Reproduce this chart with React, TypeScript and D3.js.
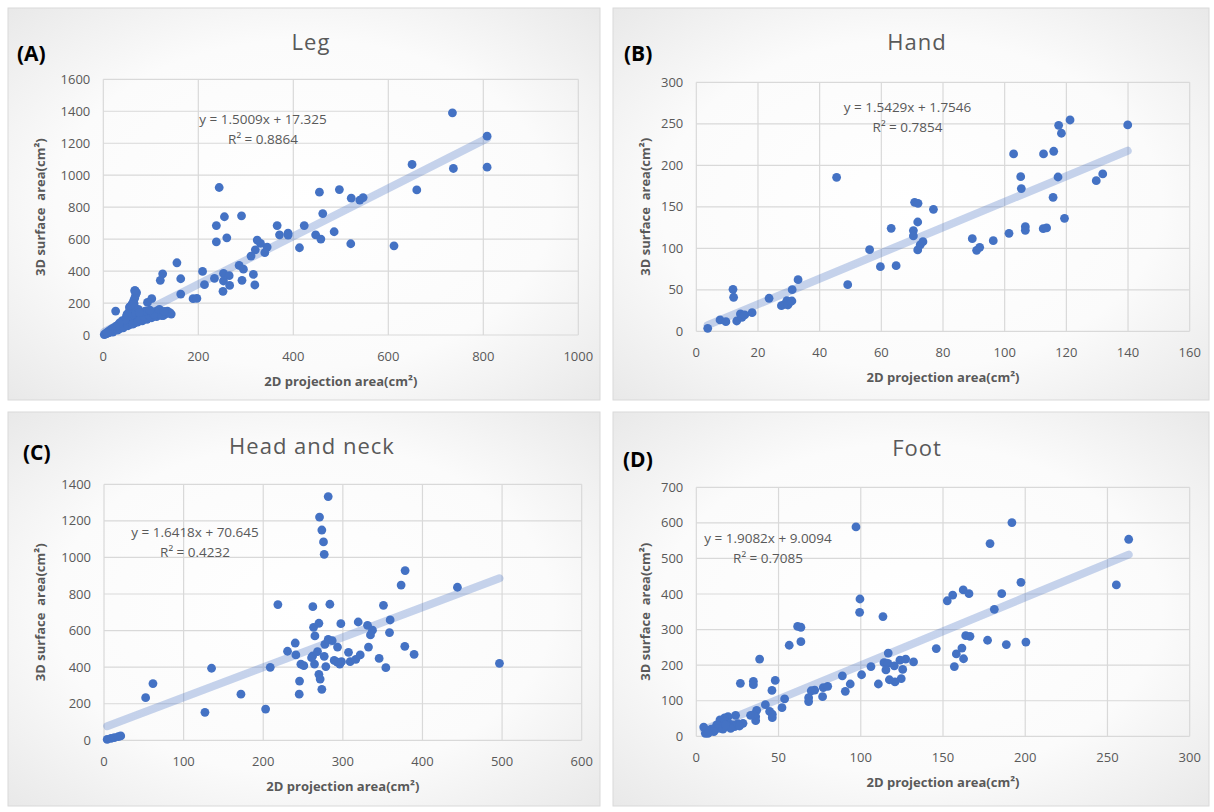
import React from 'react';
import * as d3 from 'd3';

type Pt = [number, number];

// values: [2D projection area, 3D surface area]
const legPoints: Pt[] = [
  [735, 1390], [808, 1244], [808, 1050], [737, 1042], [650, 1067], [660, 908],
  [244, 923], [455, 894], [497, 910], [522, 856], [540, 844], [547, 860],
  [462, 760], [255, 740], [291, 746], [238, 685], [366, 685], [423, 685],
  [371, 627], [389, 637], [389, 625], [447, 627], [458, 600], [486, 646],
  [521, 571], [612, 558], [238, 583], [260, 608], [324, 594], [331, 573],
  [345, 550], [340, 515], [320, 533], [311, 494], [413, 546], [286, 435],
  [295, 412], [316, 379], [319, 313], [292, 342], [253, 385], [265, 371],
  [253, 338], [266, 310], [252, 273], [234, 354], [209, 398], [213, 315],
  [189, 227], [197, 229], [155, 452], [163, 352], [163, 256], [125, 383],
  [120, 342], [102, 227], [93, 204], [67, 277], [26, 150], [143, 131],
  [131, 144], [126, 121],
  [2, 3], [4, 6], [6, 8], [8, 10], [10, 14], [12, 15], [14, 20], [16, 22],
  [18, 25], [20, 28], [22, 30], [24, 34], [26, 37], [28, 40], [30, 42],
  [32, 45], [34, 50], [36, 52], [38, 55], [40, 58], [42, 62], [44, 65],
  [46, 70], [48, 72], [50, 78], [52, 80], [55, 85], [58, 90], [60, 95],
  [62, 100], [65, 105], [68, 110], [70, 115], [72, 120], [75, 118], [78, 125],
  [80, 130], [84, 128], [88, 135], [92, 130], [96, 140], [100, 138], [104, 145],
  [108, 142], [112, 150], [116, 148], [120, 140], [125, 135], [130, 130],
  [22, 45], [28, 55], [35, 65], [40, 75], [45, 85], [50, 100], [52, 120],
  [54, 140], [56, 160], [58, 180], [60, 190], [62, 200], [64, 215], [66, 230],
  [68, 250], [70, 265], [66, 277], [55, 175], [60, 150], [48, 110], [40, 90],
  [30, 60], [35, 40], [45, 55], [55, 65], [65, 75], [75, 90], [85, 100],
  [95, 110], [105, 120], [115, 125], [25, 30], [15, 30], [10, 20], [38, 70],
  [58, 120], [63, 130], [70, 145], [80, 110], [90, 105], [100, 118], [110, 130],
  [20, 18], [30, 30], [42, 45], [52, 58], [62, 68], [72, 80], [82, 88],
  [92, 98], [102, 108], [112, 115], [122, 122], [60, 170], [65, 195], [57, 135],
  [68, 140], [74, 160], [78, 100], [86, 115], [96, 125], [106, 130], [118, 160],
  [50, 130], [46, 95], [34, 75], [25, 50], [18, 38], [12, 25], [8, 16],
  [135, 150], [140, 140], [128, 148], [88, 150], [98, 155], [76, 140],
];

const handPoints: Pt[] = [
  [3.7, 3.6], [7.7, 13.7], [9.6, 11.6], [11.9, 50.6], [12.1, 41], [13.1, 12.4],
  [14.3, 20.9], [14.8, 16.9], [15.7, 19.7], [18.1, 22.5], [23.6, 39.8],
  [27.6, 30.9], [28.6, 32.5], [29.4, 37], [29.7, 31.7], [30.5, 35.7],
  [31.0, 36.5], [31.1, 50.2], [33, 62.2], [45.5, 185.5], [49.1, 56.2],
  [56.2, 98.4], [59.7, 77.9], [63.2, 124.1], [64.8, 79.1], [70.4, 121.3],
  [70.4, 114.9], [70.8, 155.4], [71.9, 154.2], [71.8, 131.7], [71.8, 98],
  [72.6, 104], [73.5, 108], [76.9, 147], [89.5, 111.6], [90.9, 97.6],
  [91.9, 101.2], [96.3, 109.2], [101.4, 118.1], [102.9, 213.7], [105.2, 186.3],
  [105.4, 171.9], [106.7, 126.1], [106.7, 121.7], [112.6, 213.7], [112.5, 123.7],
  [113.6, 124.5], [115.9, 216.9], [115.7, 161.4], [117.3, 185.9], [117.5, 248.2],
  [118.4, 238.6], [119.4, 136.1], [121.2, 254.6], [129.7, 181.5], [131.8, 189.6],
  [139.9, 248.6],
];

const headPoints: Pt[] = [
  [4, 5], [8.8, 11], [13, 15], [18, 20], [21, 24], [52.3, 233], [61.5, 310],
  [126.8, 153], [135.1, 394], [172, 252], [203, 171], [208.8, 399], [218.4, 742],
  [230.5, 487], [240.2, 532], [241, 467], [245.6, 324], [245.2, 252], [247.3, 416],
  [251, 408], [262, 461], [262.3, 731], [263.2, 618], [264.4, 417], [264.9, 571],
  [260.7, 452], [268.2, 485], [269.9, 640], [269.9, 361], [271.5, 335],
  [273.6, 279], [270.7, 1221], [273.6, 1150], [275.7, 1085], [276.6, 1017],
  [281.6, 1333], [283.7, 744], [276.6, 459], [278.6, 403], [277.4, 525],
  [281.6, 552], [286.6, 545], [293.3, 510], [289.1, 437], [292.9, 427],
  [296.2, 417], [298.3, 430], [297.5, 638], [307.1, 481], [309.2, 430],
  [316.3, 443], [321.8, 467], [319.3, 647], [331, 629], [337.2, 602],
  [334.7, 576], [332.2, 510], [345.6, 448], [351, 738], [354, 397],
  [359.4, 658], [358.6, 589], [373.2, 849], [378.2, 928], [377.8, 514],
  [389.5, 470], [443.9, 837], [496.7, 421],
];

const footPoints: Pt[] = [
  [97.1, 588.6], [191.9, 600.7], [178.6, 541.7], [262.9, 553.9], [255.4, 425.5],
  [197.4, 433], [185.7, 401], [162.3, 411.4], [165.8, 401], [155.9, 397],
  [152.6, 381], [181.2, 357], [99.5, 386], [99.3, 348.6], [113.5, 336.5],
  [61.6, 309], [63.6, 306.5], [63.6, 266], [56.5, 256], [38.5, 217],
  [163.8, 283], [166.4, 281], [177.1, 270], [188.5, 258], [200.4, 265],
  [145.9, 246.5], [161.5, 248], [158.1, 231.5], [162.5, 218], [156.9, 196],
  [116.7, 234], [114.1, 207], [116.5, 205], [115.3, 186.5], [120.4, 198],
  [123.8, 214], [127.3, 217], [125.5, 188], [132.1, 209], [124.6, 162],
  [120.8, 153], [117.4, 159], [110.7, 147], [106.2, 196], [100.5, 173],
  [93.6, 147], [88.8, 170], [90.6, 126.5], [77.2, 137], [79.9, 140.6],
  [76.8, 111.5], [72, 130], [69.9, 128], [68.3, 108.7], [68.3, 97.5],
  [53.7, 105], [52.1, 80.6], [46, 129], [48, 157], [34.7, 154.6], [34.7, 145],
  [26.8, 149], [42, 89], [44.6, 70], [46.2, 62], [46.2, 52.5], [36.7, 73],
  [36.1, 55], [36.1, 44], [34.7, 60], [33, 59], [28.4, 36.5], [23.9, 59],
  [25.3, 35.6], [19.3, 55], [17.2, 51.5], [14.4, 46], [17.2, 41], [20.3, 34],
  [22.3, 32], [23.3, 27], [18.8, 29], [15.2, 27], [12.4, 32], [11.1, 22.5],
  [9.1, 20], [7.1, 16], [4.5, 26], [5.5, 8.4], [8.1, 13], [13.6, 22.5],
  [16.2, 20], [20.9, 22.5], [26.3, 29], [17.8, 32], [10.7, 13], [7.1, 8.4],
];

// trendline coefficients shown on the chart: slope, intercept, R²
const fitSlopes = [1.5009, 1.5429, 1.6418, 1.9082];
const fitIntercepts = [17.325, 1.7546, 70.645, 9.0094];
const fitR2 = ['0.8864', '0.7854', '0.4232', '0.7085'];

const titles = ['Leg', 'Hand', 'Head and neck', 'Foot'];
const letters = ['(A)', '(B)', '(C)', '(D)'];

const legXTicks = [0, 200, 400, 600, 800, 1000];
const legYTicks = [0, 200, 400, 600, 800, 1000, 1200, 1400, 1600];
const handXTicks = [0, 20, 40, 60, 80, 100, 120, 140, 160];
const handYTicks = [0, 50, 100, 150, 200, 250, 300];
const headXTicks = [0, 100, 200, 300, 400, 500, 600];
const headYTicks = [0, 200, 400, 600, 800, 1000, 1200, 1400];
const footXTicks = [0, 50, 100, 150, 200, 250, 300];
const footYTicks = [0, 100, 200, 300, 400, 500, 600, 700];

const font = "'Open Sans', 'Liberation Sans', sans-serif";
const grey = '#595959';
const blue = '#4472C4';

// layout of each panel (pixels)
const layout = [
  { box: [8, 8, 592, 392], plot: [103.3, 79.3, 578.3, 335], title: [311, 42], letter: [17, 61], yLab: 40.6, eq: [263, 119] },
  { box: [613, 8, 596, 392], plot: [696.3, 82.3, 1189.7, 331.3], title: [917, 42], letter: [624, 61], yLab: 645.7, eq: [907.5, 107.3] },
  { box: [8, 412, 592, 394], plot: [104, 484.3, 581.7, 740.3], title: [312, 446], letter: [23, 460], yLab: 40.6, eq: [195, 532.3] },
  { box: [613, 412, 596, 394], plot: [696.3, 487.3, 1189.7, 736.3], title: [917, 448], letter: [623, 467], yLab: 645.7, eq: [768, 538.3] },
];

const datasets = [legPoints, handPoints, headPoints, footPoints];
const xTickSets = [legXTicks, handXTicks, headXTicks, footXTicks];
const yTickSets = [legYTicks, handYTicks, headYTicks, footYTicks];

const Panel = ({ i }: { i: number }) => {
  const L = layout[i];
  const data = datasets[i];
  const xt = xTickSets[i];
  const yt = yTickSets[i];
  const [pl, pt, pr, pb] = L.plot;

  const x = d3.scaleLinear().domain([0, xt[xt.length - 1]]).range([pl, pr]);
  const y = d3.scaleLinear().domain([0, yt[yt.length - 1]]).range([pb, pt]);

  const [xMin, xMax] = d3.extent(data, (d) => d[0]) as [number, number];
  const fit = (v: number) => fitSlopes[i] * v + fitIntercepts[i];

  return (
    <g>
      <rect x={L.box[0]} y={L.box[1]} width={L.box[2]} height={L.box[3]} fill="url(#panelBg)" stroke="#d9d9d9" strokeWidth={1} />
      {yt.map((t) => (
        <g key={`y${t}`}>
          <line x1={pl} x2={pr} y1={y(t)} y2={y(t)} stroke="#d9d9d9" strokeWidth={1.2} />
          <text x={pl - 13} y={y(t)} dy="0.35em" textAnchor="end" fontSize={13} fill={grey} fontFamily={font}>{t}</text>
        </g>
      ))}
      {xt.map((t) => (
        <g key={`x${t}`}>
          <line x1={x(t)} x2={x(t)} y1={pt} y2={pb} stroke="#d9d9d9" strokeWidth={1.2} />
          <text x={x(t)} y={pb + 21} dy="0.35em" textAnchor="middle" fontSize={13} fill={grey} fontFamily={font}>{t}</text>
        </g>
      ))}
      <line
        x1={x(xMin)} y1={y(fit(xMin))} x2={x(xMax)} y2={y(fit(xMax))}
        stroke={blue} strokeOpacity={0.3} strokeWidth={8} strokeLinecap="round"
      />
      {data.map((d, k) => (
        <circle key={k} cx={x(d[0])} cy={y(d[1])} r={4.4} fill={blue} />
      ))}
      <text x={L.eq[0]} y={L.eq[1]} dy="0.35em" textAnchor="middle" fontSize={13.5} fill={grey} fontFamily={font}>
        {`y = ${fitSlopes[i]}x + ${fitIntercepts[i]}`}
      </text>
      <text x={L.eq[0]} y={L.eq[1] + 20} dy="0.35em" textAnchor="middle" fontSize={13.5} fill={grey} fontFamily={font}>
        {`R² = ${fitR2[i]}`}
      </text>
      <text x={L.title[0]} y={L.title[1]} dy="0.35em" textAnchor="middle" fontSize={22} letterSpacing={1} fill={grey} fontFamily={font}>
        {titles[i]}
      </text>
      <text x={L.letter[0]} y={L.letter[1]} fontSize={21} fontWeight="bold" fill="#000" fontFamily={font}>
        {letters[i]}
      </text>
      <text
        transform={`translate(${L.yLab},${(pt + pb) / 2}) rotate(-90)`}
        dy="0.35em" textAnchor="middle" fontSize={13} fontWeight="bold" fill={grey} fontFamily={font}
        style={{ whiteSpace: 'pre' }}
      >
        {'3D surface  area(cm²)'}
      </text>
      <text x={(pl + pr) / 2} y={pb + 46} dy="0.35em" textAnchor="middle" fontSize={13} fontWeight="bold" fill={grey} fontFamily={font}>
        2D projection area(cm²)
      </text>
    </g>
  );
};

export default function App() {
  return (
    <svg width={1214} height={812} style={{ position: 'absolute', left: 0, top: 0, background: '#fff' }}>
      <defs>
        <radialGradient id="panelBg" cx="50%" cy="50%" r="70%">
          <stop offset="0%" stopColor="#ffffff" />
          <stop offset="60%" stopColor="#fbfbfb" />
          <stop offset="100%" stopColor="#e9e9e9" />
        </radialGradient>
      </defs>
      {layout.map((_, i) => <Panel key={i} i={i} />)}
    </svg>
  );
}
